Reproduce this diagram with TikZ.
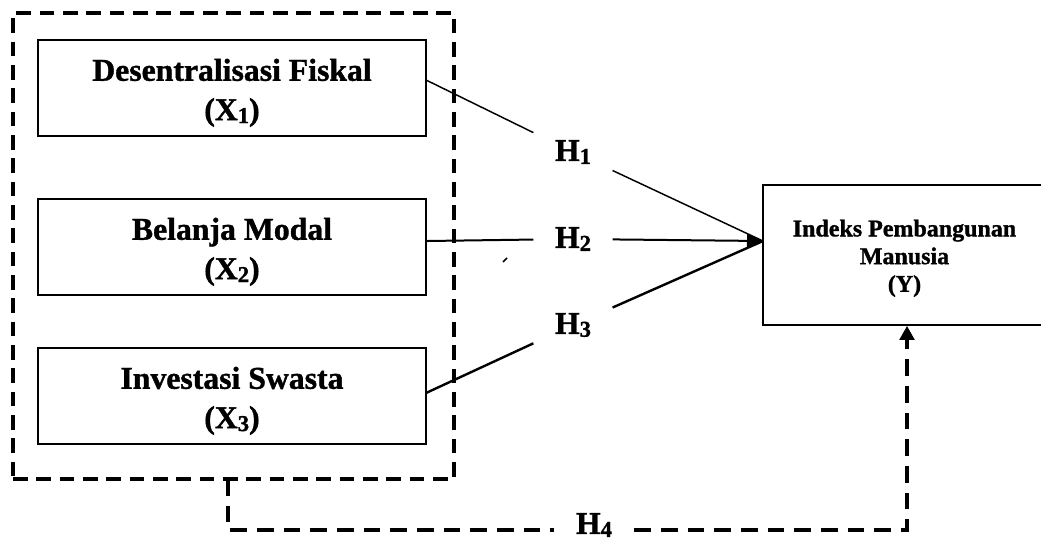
\documentclass[tikz,border=0pt]{standalone}
\usepackage{fontspec}
\setmainfont{Liberation Serif}[BoldFeatures={FakeBold=1.2}]
\usetikzlibrary{arrows.meta}
\newcommand\mysub[1]{\raisebox{-2.2pt}{\fontsize{17}{17}\selectfont #1}}
\begin{document}
\begin{tikzpicture}[x=0.75pt,y=-0.75pt,
  varbox/.style={draw,line width=1.6pt,minimum width=291pt,minimum height=72pt,inner sep=0pt},
  vartext/.style={inner sep=0pt,align=center,font=\fontsize{23.8}{29.5}\selectfont\bfseries},
  ybox/.style={draw,line width=1.3pt,minimum width=212.25pt,minimum height=105pt,inner sep=0pt},
  ytext/.style={inner sep=0pt,align=center,font=\fontsize{18}{20.8}\selectfont\bfseries},
  grpbox/.style={draw,line width=2.4pt,dash pattern=on 11pt off 6.5pt,minimum width=330.75pt,
    minimum height=349.5pt,inner sep=0pt},
  hlab/.style={inner sep=0pt,minimum width=59pt,minimum height=60pt,font=\fontsize{23.8}{28.5}\selectfont\bfseries},
  dashline/.style={line width=2.4pt,dash pattern=on 12.5pt off 7.5pt},
]
\useasboundingbox (0,0) rectangle (1041,540);
% group box and variable boxes
\node[grpbox] (grp) at (233.5,246) {};
\node[varbox] (x1) at (232,88) {};
\node[varbox] (x2) at (232,247) {};
\node[varbox] (x3) at (232,396) {};
\node[vartext] (x1t) at ([yshift=-3.6pt]x1.center) {Desentralisasi Fiskal\\(X\mysub{1})};
\node[vartext] (x2t) at ([yshift=-3.6pt]x2.center) {Belanja Modal\\(X\mysub{2})};
\node[vartext] (x3t) at ([yshift=-3.6pt]x3.center) {Investasi Swasta\\(X\mysub{3})};
% dependent box
\node[ybox] (y) at (904.5,255) {};
\node[ytext] (yt) at ([yshift=-2.5pt]y.center) {Indeks Pembangunan\\Manusia\\(Y)};
% hypothesis labels
\node[hlab] (h1) at (573,152) {H\mysub{1}};
\node[hlab] (h2) at (573,239) {H\mysub{2}};
\node[hlab] (h3) at (573,325) {H\mysub{3}};
% connector anchors
\coordinate (s1) at (426,80);
\coordinate (s3) at (426,393);
\coordinate (t) at (763,241);
\draw[line width=1.1pt] (s1) -- (h1);
\draw[line width=1.1pt] (h1) -- (t);
\draw[line width=1.5pt] (x2.east |- t) -- (h2);
\draw[line width=1.5pt,-{Triangle[length=12pt,width=10pt]}] (h2) -- (t);
\draw[line width=1.8pt] (s3) -- (h3);
\draw[line width=1.8pt] (h3) -- (t);
% stray tick
\draw[line width=1.2pt] (503,262) -- (507,258);
% H4 path
\coordinate (d0) at (228,479);
\coordinate (d1) at (228,530);
\coordinate (c2) at (907,530);
\node[inner sep=0pt,minimum width=60pt,minimum height=20pt,font=\fontsize{23.8}{28.5}\selectfont\bfseries] (h4) at (594,525) {H\mysub{4}};
\draw[dashline] (d0) -- (d1) -- (h4.west |- d1);
\draw[dashline,-{Triangle[length=10.5pt,width=11pt]}] (h4.east |- c2) -- (c2) -- (c2 |- y.south);
\end{tikzpicture}
\end{document}
